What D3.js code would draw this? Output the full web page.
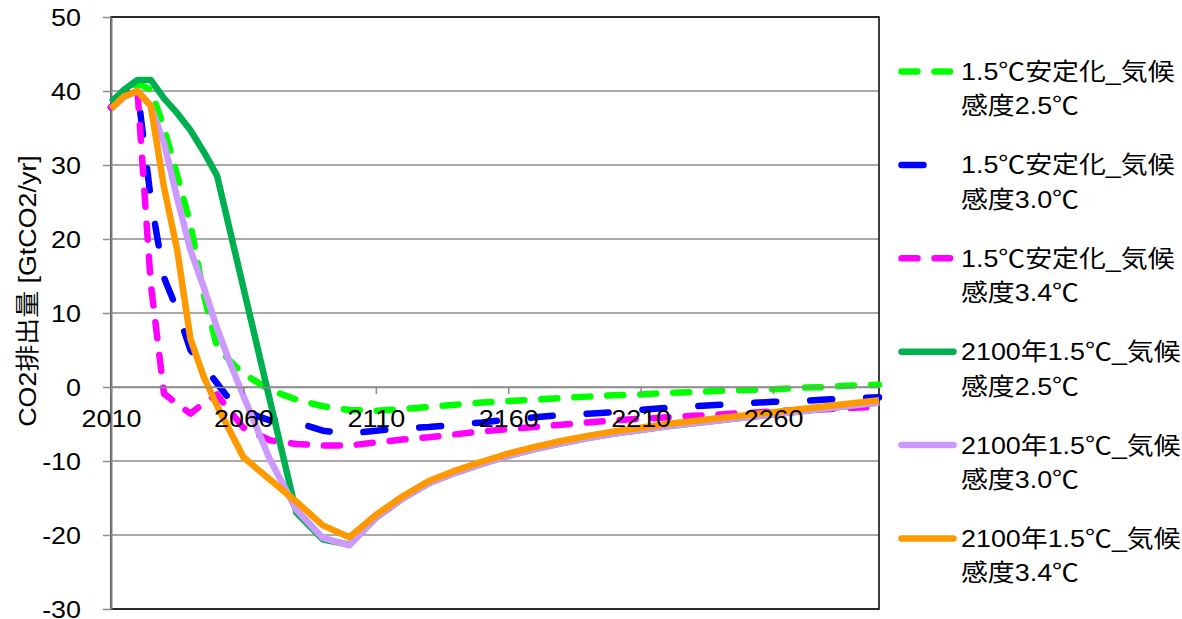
<!DOCTYPE html>
<html>
<head>
<meta charset="utf-8">
<script src="https://cdn.jsdelivr.net/npm/d3@7"></script>
<style>
  html, body { margin: 0; padding: 0; background: #fff; }
  svg { display: block; }
  text { font-family: "Liberation Sans", Arial, "Noto Sans CJK JP", sans-serif; fill: #000; font-size: 24px; }
  .cjk { font-family: "Noto Sans CJK JP", sans-serif; }
</style>
</head>
<body>
<svg id="chart" width="1182" height="619"></svg>
<script>
// Years of the emission pathways (5-year steps to 2060, then 10-year steps)
const years = [2010, 2015, 2020, 2025, 2030, 2035, 2040, 2045, 2050, 2055,
               2060, 2070, 2080, 2090, 2100, 2110, 2120, 2130, 2140, 2150,
               2160, 2170, 2180, 2190, 2200, 2210, 2220, 2230, 2240, 2250,
               2260, 2270, 2280, 2290, 2300];

// CO2 emissions [GtCO2/yr] per scenario
const stab25 = [37.8, 40.0, 41.0, 40.2, 35.0, 28.6, 22.0, 12.5, 5.5, 3.5,
                1.8, -0.4, -1.7, -2.6, -3.1, -3.2, -3.0, -2.7, -2.4, -2.1,
                -1.9, -1.7, -1.5, -1.3, -1.1, -1.0, -0.8, -0.7, -0.5, -0.4,
                -0.3, -0.1, 0.0, 0.2, 0.3];
const stab30 = [37.8, 39.5, 40.2, 25.5, 14.8, 10.4, 5.0, 2.9, 0.5, -1.8,
                -3.3, -4.5, -4.8, -5.9, -6.3, -5.9, -5.6, -5.4, -5.1, -4.8,
                -4.4, -4.1, -3.8, -3.6, -3.4, -3.1, -2.8, -2.6, -2.4, -2.2,
                -2.0, -1.9, -1.7, -1.5, -1.4];
const stab34 = [37.8, 39.5, 40.0, 14.0, -0.9, -2.3, -3.6, -2.2, -1.0, -3.3,
                -5.5, -7.2, -7.7, -7.9, -7.9, -7.5, -7.1, -6.8, -6.4, -6.0,
                -5.7, -5.4, -5.1, -4.8, -4.5, -4.3, -4.1, -3.9, -3.7, -3.5,
                -3.3, -3.1, -3.0, -2.8, -2.7];
const y2100_25 = [38.5, 40.2, 41.5, 41.5, 39.0, 37.0, 34.7, 31.8, 28.6, 21.0,
                  13.4, -1.8, -17.0, -20.6, -21.3, -17.7, -15.1, -13.0, -11.6, -10.4,
                  -9.3, -8.4, -7.6, -6.9, -6.3, -5.8, -5.3, -4.9, -4.5, -4.1,
                  -3.7, -3.3, -2.9, -2.5, -2.1];
const y2100_30 = [37.6, 39.2, 40.0, 38.0, 33.0, 25.5, 18.5, 13.5, 8.0, 3.2,
                  -1.2, -9.8, -16.6, -20.4, -21.4, -17.7, -15.1, -13.0, -11.6, -10.4,
                  -9.3, -8.4, -7.6, -6.9, -6.3, -5.8, -5.3, -4.9, -4.5, -4.1,
                  -3.7, -3.3, -2.9, -2.5, -2.1];
const y2100_34 = [37.6, 39.3, 40.0, 38.0, 27.0, 18.5, 6.5, 1.4, -2.5, -6.0,
                  -9.5, -12.5, -15.5, -18.7, -20.3, -17.3, -14.8, -12.7, -11.3, -10.1,
                  -9.0, -8.1, -7.3, -6.6, -6.0, -5.5, -5.0, -4.6, -4.2, -3.8,
                  -3.4, -3.0, -2.6, -2.2, -1.8];

const seriesNames = [
  "1.5℃安定化_気候感度2.5℃",
  "1.5℃安定化_気候感度3.0℃",
  "1.5℃安定化_気候感度3.4℃",
  "2100年1.5℃_気候感度2.5℃",
  "2100年1.5℃_気候感度3.0℃",
  "2100年1.5℃_気候感度3.4℃"
];
const seriesValues = [stab25, stab30, stab34, y2100_25, y2100_30, y2100_34];

const yTickValues = [-30, -20, -10, 0, 10, 20, 30, 40, 50];
const xTickValues = [2010, 2060, 2110, 2160, 2210, 2260];
const yTitle = "CO2排出量 [GtCO2/yr]";

// Line styling per series
const styles = [
  { color: "#00FF00", dash: "16,17" },
  { color: "#0000FF", dash: "22,34" },
  { color: "#FF00FF", dash: "16,17" },
  { color: "#00B050", dash: null },
  { color: "#CC99FF", dash: null },
  { color: "#FF9900", dash: null }
];

const stretch = 1.12;          // glyphs are set slightly wide
const lineW = 6.5;
const plot = { left: 111, right: 879, top: 17, bottom: 609 };

const svg = d3.select("#chart");

const x = d3.scaleLinear().domain([2010, 2300]).range([plot.left, plot.right]);
const y = d3.scaleLinear().domain([-30, 50]).range([plot.bottom, plot.top]);

// Writes a label, setting the degree-Celsius sign in the CJK face
function setLabel(sel, str) {
  sel.text(null);
  str.split(/(℃)/).filter(s => s.length).forEach(part => {
    const t = sel.append("tspan").text(part);
    if (part === "℃") t.attr("class", "cjk");
  });
}

// Horizontal gridlines
svg.append("g")
  .selectAll("line")
  .data(yTickValues)
  .join("line")
  .attr("x1", plot.left).attr("x2", plot.right)
  .attr("y1", d => y(d)).attr("y2", d => y(d))
  .attr("stroke", "#8c8c8c").attr("stroke-width", 1.5);

// Plot area border
svg.append("rect")
  .attr("x", plot.left).attr("y", plot.top)
  .attr("width", plot.right - plot.left).attr("height", plot.bottom - plot.top)
  .attr("fill", "none").attr("stroke", "#000").attr("stroke-width", 1.5);

// Value axis
const yAxis = svg.append("g")
  .attr("transform", `translate(${plot.left},0)`)
  .call(d3.axisLeft(y).tickValues(yTickValues).tickSize(8).tickSizeOuter(0).tickFormat(d => String(d)));
yAxis.select(".domain").attr("stroke", "#808080").attr("stroke-width", 2);
yAxis.selectAll(".tick line").attr("stroke", "#8c8c8c").attr("stroke-width", 1.5);
yAxis.selectAll(".tick text")
  .attr("x", null).attr("dy", "0.35em")
  .attr("transform", `translate(-30,0) scale(${stretch},1)`)
  .attr("text-anchor", "end")
  .style("font-size", "24px").attr("fill", "#000");
yAxis.attr("font-family", null).attr("font-size", null);

// Category (year) axis crossing at zero
const xAxis = svg.append("g")
  .attr("transform", `translate(0,${y(0)})`)
  .call(d3.axisBottom(x).tickValues(xTickValues).tickSize(7).tickSizeOuter(0).tickFormat(d => String(d)));
xAxis.select(".domain").attr("stroke", "#8c8c8c").attr("stroke-width", 1.5);
xAxis.selectAll(".tick line").attr("stroke", "#8c8c8c").attr("stroke-width", 1.5);
xAxis.attr("font-family", null).attr("font-size", null);

// Series lines (drawn in legend order, later ones on top)
const line = d3.line()
  .x(d => x(d.year))
  .y(d => y(d.v));

const seriesData = seriesValues.map(vals => years.map((yr, i) => ({ year: yr, v: vals[i] })));

svg.append("g")
  .selectAll("path")
  .data(seriesData)
  .join("path")
  .attr("d", line)
  .attr("fill", "none")
  .attr("stroke", (d, i) => styles[i].color)
  .attr("stroke-width", lineW)
  .attr("stroke-linejoin", "round")
  .attr("stroke-linecap", (d, i) => styles[i].dash ? "round" : "butt")
  .attr("stroke-dasharray", (d, i) => styles[i].dash);

// Year labels sit above the lines
xAxis.raise();
xAxis.selectAll(".tick text")
  .attr("y", null).attr("dy", null)
  .attr("transform", `translate(0,40.3) scale(${stretch},1)`)
  .attr("text-anchor", "middle")
  .style("font-size", "24px").attr("fill", "#000");

// Axis title
svg.append("text")
  .attr("transform", `translate(28,291) rotate(-90) scale(${stretch},1)`)
  .attr("text-anchor", "middle")
  .attr("dy", "0.35em")
  .text(yTitle);

// Legend
const legend = svg.append("g");
const legendTop = 71.5, legendStep = 93.4, secondLine = 34.5;
seriesNames.forEach((name, i) => {
  const cy = legendTop + legendStep * i;
  const st = styles[i];
  legend.append("line")
    .attr("x1", 901.5).attr("x2", st.dash ? 950 : 953.5)
    .attr("y1", cy).attr("y2", cy)
    .attr("stroke", st.color).attr("stroke-width", lineW)
    .attr("stroke-linecap", "round")
    .attr("stroke-dasharray", st.dash);
  const cut = name.indexOf("感度");
  [name.slice(0, cut), name.slice(cut)].forEach((txt, k) => {
    const t = legend.append("text")
      .attr("transform", `translate(961,${cy + k * secondLine}) scale(${stretch},1)`)
      .attr("dy", "0.35em");
    setLabel(t, txt);
  });
});
</script>
</body>
</html>
